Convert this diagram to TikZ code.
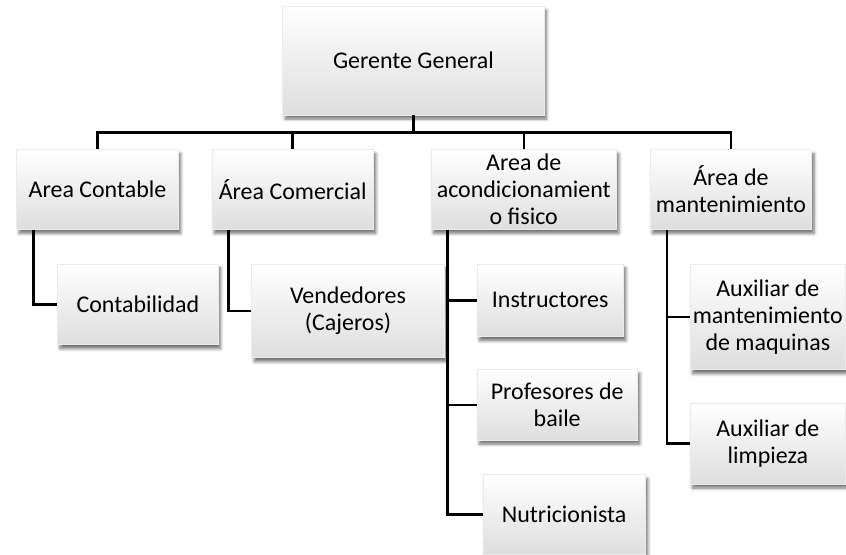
\documentclass[tikz,border=0pt]{standalone}
\usepackage{fontspec}
\setmainfont{Carlito}
\usetikzlibrary{positioning,shadows.blur}

\begin{document}
\begin{tikzpicture}[-,node distance=17pt,main node/.style={rectangle,draw=black!8,line width=0.3pt,top color=white,bottom color=black!13,blur shadow={shadow xshift=1.2pt,shadow yshift=-2pt,shadow blur steps=6,shadow blur radius=1.5pt,shadow opacity=55},align=center,inner sep=1pt,font=\fontsize{12}{13.5}\selectfont},bus/.style={to path={(\tikztostart.south) |- ([yshift=8.5pt]\tikztotarget.north) -- (\tikztotarget.north)}},side/.style={to path={([xshift=8.5pt]\tikztostart.south west) |- (\tikztotarget.west)}}]
                \node[main node,minimum width=131pt,minimum height=54.5pt] (1) {Gerente General};
                \node[main node,minimum width=81pt,minimum height=40pt] (2) [below left=17pt and 52pt of 1]{Area Contable};
                \node[main node,minimum width=81pt,minimum height=40pt] (3) [right=16.5pt of 2]{Área Comercial};
                \node[main node,minimum width=93pt,minimum height=40pt] (4) [right=28.5pt of 3]{Area de\\acondicionamient\\o fisico};
                \node[main node,minimum width=81pt,minimum height=40pt] (5) [right=16.5pt of 4]{Área de\\mantenimiento};
                \node[main node,minimum width=80.5pt,minimum height=40.5pt] (6) [below right=17pt and 20.5pt of 2.south west]{Contabilidad};
                \node[main node,minimum width=96.5pt,minimum height=47pt] (7) [below right=17pt and 20pt of 3.south west]{Vendedores\\(Cajeros)};
                \node[main node,minimum width=73.5pt,minimum height=36.5pt] (8) [below right=17pt and 23pt of 4.south west]{Instructores};
                \node[main node,minimum width=80.5pt,minimum height=35.5pt] (9) [below right=16pt and 0pt of 8.south west]{Profesores de\\baile};
                \node[main node,minimum width=81.5pt,minimum height=40pt] (10) [below right=17pt and 3pt of 9.south west]{Nutricionista};
                \node[main node,minimum width=78pt,minimum height=53pt] (11) [below right=17pt and 20pt of 5.south west]{Auxiliar de\\mantenimiento\\de maquinas};
                \node[main node,minimum width=78pt,minimum height=40.5pt] (12) [below right=16.5pt and 0pt of 11.south west]{Auxiliar de\\limpieza};

                \useasboundingbox ([shift={(-141.5pt,3pt)}]1.north west) rectangle ++(423pt,-277.5pt);

                \path[line width=1.2pt]
                    (1) edge[bus] (2)
                    (1) edge[bus] (3)
                    (1) edge[bus] (4)
                    (1) edge[bus] (5)
                ;

                \path[line width=1.2pt]
                    (2) edge[side] (6)
                    (3) edge[side] (7)
                    (4) edge[side] (8)
                    (4) edge[side] (9)
                    (4) edge[side] (10)
                    (5) edge[side] (11)
                    (5) edge[side] (12)
                ;
            \end{tikzpicture}
\end{document}
